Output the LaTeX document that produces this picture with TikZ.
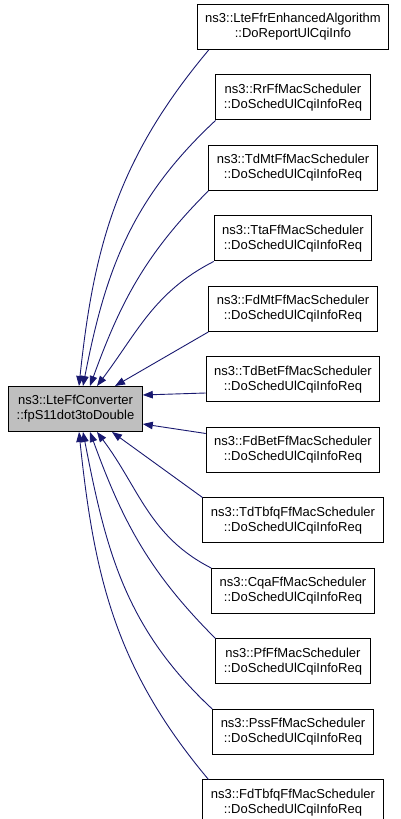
\documentclass[tikz,border=0pt]{standalone}
\usepackage{fontspec}
\setmainfont{Liberation Sans}
\usetikzlibrary{arrows.meta,positioning}
\definecolor{edgeblue}{HTML}{191970}

\begin{document}
\begin{tikzpicture}[
    x=1pt, y=1pt,
    node distance=24.5pt,
    fn/.style={rectangle, draw=black, fill=white, line width=1pt, align=center, minimum height=45pt, inner xsep=8pt, font=\fontsize{13}{15}\selectfont},
    caller/.style={draw=edgeblue, line width=0.9pt, <-, >={Triangle[length=10pt,width=7.5pt]}}
]
\useasboundingbox (0,0) rectangle (400,819);

% Nodes
\node[fn, fill=black!25] (converter) at (75.5,410) {ns3::LteFfConverter\\::fpS11dot3toDouble};
\node[fn] (ffr) at (293,792) {ns3::LteFfrEnhancedAlgorithm\\::DoReportUlCqiInfo};
\node[fn, below=of ffr] (rr) {ns3::RrFfMacScheduler\\::DoSchedUlCqiInfoReq};
\node[fn, below=of rr] (tdmt) {ns3::TdMtFfMacScheduler\\::DoSchedUlCqiInfoReq};
\node[fn, below=of tdmt] (tta) {ns3::TtaFfMacScheduler\\::DoSchedUlCqiInfoReq};
\node[fn, below=of tta] (fdmt) {ns3::FdMtFfMacScheduler\\::DoSchedUlCqiInfoReq};
\node[fn, below=of fdmt] (tdbet) {ns3::TdBetFfMacScheduler\\::DoSchedUlCqiInfoReq};
\node[fn, below=of tdbet] (fdbet) {ns3::FdBetFfMacScheduler\\::DoSchedUlCqiInfoReq};
\node[fn, below=of fdbet] (tdtbfq) {ns3::TdTbfqFfMacScheduler\\::DoSchedUlCqiInfoReq};
\node[fn, below=of tdtbfq] (cqa) {ns3::CqaFfMacScheduler\\::DoSchedUlCqiInfoReq};
\node[fn, below=of cqa] (pf) {ns3::PfFfMacScheduler\\::DoSchedUlCqiInfoReq};
\node[fn, below=of pf] (pss) {ns3::PssFfMacScheduler\\::DoSchedUlCqiInfoReq};
\node[fn, below=of pss] (fdtbfq) {ns3::FdTbfqFfMacScheduler\\::DoSchedUlCqiInfoReq};

% Arrows
\draw[caller] ([xshift=3.5pt]converter.north) to[out=84, in=230] ([xshift=12pt]ffr.south west);
\draw[caller] ([xshift=7.5pt]converter.north) to[out=79, in=223] (rr.south west);
\draw[caller] ([xshift=14.5pt]converter.north) to[out=70, in=225] (tdmt.south west);
\draw[caller] ([xshift=21.5pt]converter.north) to[out=53, in=207] (tta.south west);
\draw[caller] ([xshift=39.5pt]converter.north) -- (fdmt.south west);
\draw[caller] ([yshift=14pt]converter.east) -- ([yshift=-13.5pt]tdbet.west);
\draw[caller] ([yshift=-15pt]converter.east) -- ([yshift=16.5pt]fdbet.west);
\draw[caller] ([xshift=36.5pt]converter.south) -- (tdtbfq.north west);
\draw[caller] ([xshift=21.5pt]converter.south) to[out=-53, in=153] (cqa.north west);
\draw[caller] ([xshift=14.5pt]converter.south) to[out=-70, in=135] (pf.north west);
\draw[caller] ([xshift=7.5pt]converter.south) to[out=-79, in=137] (pss.north west);
\draw[caller] ([xshift=3.5pt]converter.south) to[out=-84, in=130] ([xshift=6pt]fdtbfq.north west);
\end{tikzpicture}
\end{document}
